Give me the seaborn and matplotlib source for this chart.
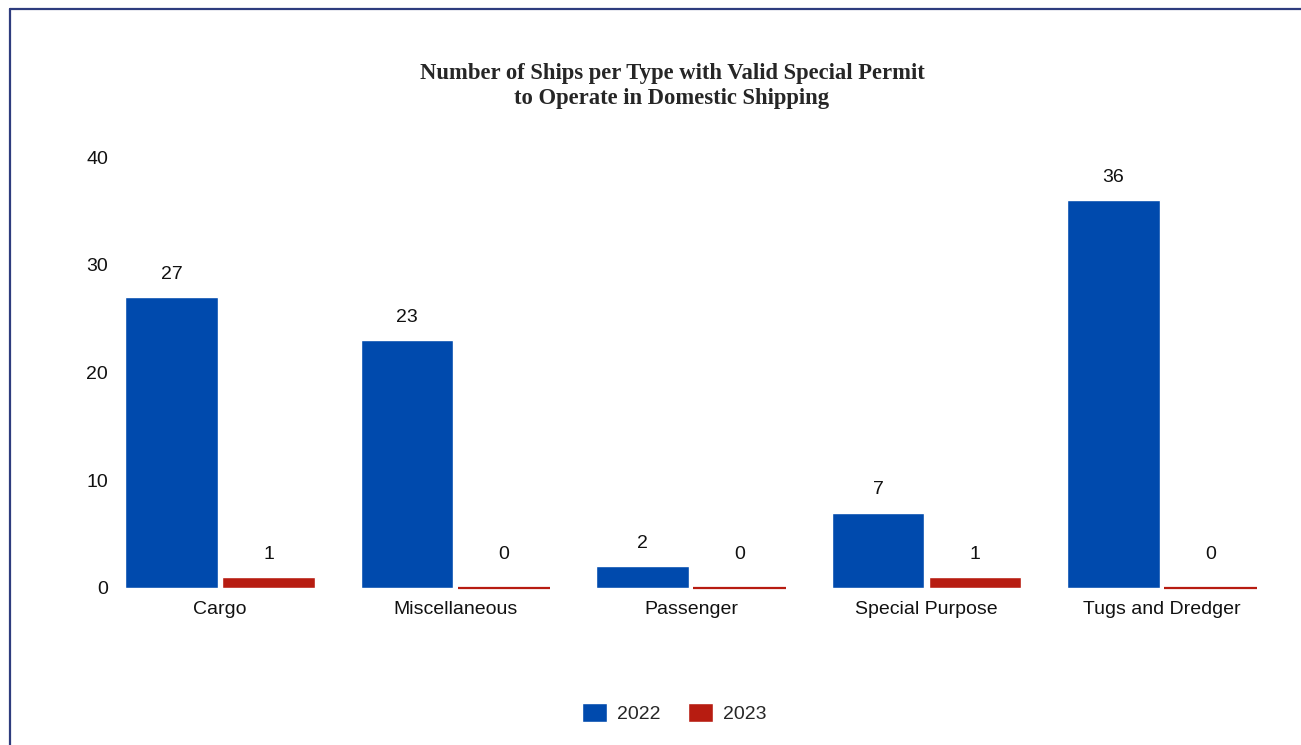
import numpy as np
import pandas as pd
import matplotlib
matplotlib.use("Agg")
import matplotlib.pyplot as plt
import seaborn as sns
from matplotlib.lines import Line2D
from matplotlib.patches import Patch

# Data
ship_types = ["Cargo", "Miscellaneous", "Passenger", "Special Purpose", "Tugs and Dredger"]
years = ["2022", "2023"]
counts_2022 = [27, 23, 2, 7, 36]
counts_2023 = [1, 0, 0, 1, 0]
y_ticks = [0, 10, 20, 30, 40]

colors = {"2022": "#004aad", "2023": "#b71c11"}

df = pd.DataFrame({
    "Type": ship_types * 2,
    "Year": [years[0]] * len(ship_types) + [years[1]] * len(ship_types),
    "Count": counts_2022 + counts_2023,
})

sns.set_theme(style="white")
plt.rcParams["font.family"] = ["Liberation Sans", "DejaVu Sans"]

fig = plt.figure(figsize=(13.01, 7.45), dpi=100)
ax = fig.add_axes([115 / 1301, 1 - 588 / 745, (1280 - 115) / 1301, (588 - 157) / 745])

sns.barplot(data=df, x="Type", y="Count", hue="Year", palette=colors,
            width=0.824, gap=0.05, ax=ax, legend=False, saturation=1)

# zero-height bars still show as a thin line, labels sit above
for container, year in zip(ax.containers, years):
    for bar in container:
        h = bar.get_height()
        x0 = bar.get_x()
        w = bar.get_width()
        if h == 0:
            ax.plot([x0, x0 + w], [h, h], color=colors[year], linewidth=1.6,
                    solid_capstyle="butt", clip_on=False, zorder=3)
        ax.annotate(f"{int(h)}", (x0 + w / 2, max(h, 1)),
                    xytext=(0, 16.5), textcoords="offset points",
                    ha="center", va="center", fontsize=14, color="#111111")

ax.set_xlim(-0.446, 4.501)
ax.set_ylim(0, 40)
ax.set_yticks(y_ticks)
ax.set_xlabel("")
ax.set_ylabel("")
ax.tick_params(axis="x", labelsize=14, length=0, pad=9, colors="#111111")
ax.tick_params(axis="y", labelsize=14, length=0, pad=5, colors="#111111")
sns.despine(ax=ax, left=True, bottom=True)

fig.text(0.5165, 1 - 86 / 745,
         "Number of Ships per Type with Valid Special Permit\nto Operate in Domestic Shipping",
         ha="center", va="center", fontsize=16.3, fontweight="bold",
         family=["Liberation Serif", "DejaVu Serif"], linespacing=1.3)

handles = [Patch(facecolor=colors[y], label=y) for y in years]
fig.legend(handles=handles, loc="center", bbox_to_anchor=(0.518, 1 - 713 / 745),
           ncol=2, frameon=False, fontsize=14, handlelength=1.3, handleheight=1.1,
           columnspacing=1.4, handletextpad=0.5)

# frame lines on top and left edge
border = "#2e3c7e"
fig.add_artist(Line2D([9.5 / 1301, 1.0], [1 - 8.5 / 745, 1 - 8.5 / 745],
                      transform=fig.transFigure, color=border, linewidth=1.6))
fig.add_artist(Line2D([9.5 / 1301, 9.5 / 1301], [0.0, 1 - 8.5 / 745],
                      transform=fig.transFigure, color=border, linewidth=1.6))

fig.savefig("out.png", dpi=100)
